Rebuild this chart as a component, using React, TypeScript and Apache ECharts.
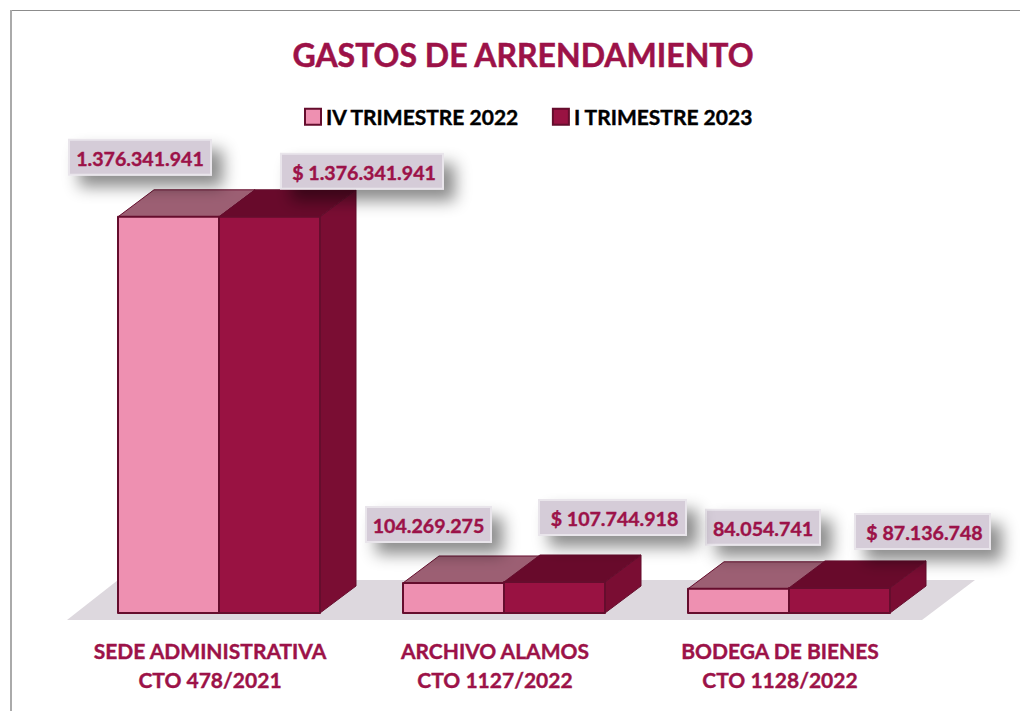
import React, { useEffect, useRef } from "react";
import * as echarts from "echarts";

const title = "GASTOS DE ARRENDAMIENTO";
const categories = ["SEDE ADMINISTRATIVA\nCTO 478/2021", "ARCHIVO ALAMOS\nCTO 1127/2022", "BODEGA DE BIENES\nCTO 1128/2022"];
const seriesNames = ["IV TRIMESTRE 2022", "I TRIMESTRE 2023"];
const trimestre4 = [1376341941, 104269275, 84054741];
const trimestre1 = [1376341941, 107744918, 87136748];

// hand-placed data-label boxes relative to each bar's front top-left corner: [dx, dy, w, h]
const labelOffsets4 = [[-49, -77, 142, 35], [-37, -76, 125, 35], [18, -79, 114, 35]];
const labelOffsets1 = [[62, -63, 162, 35], [35, -82, 147, 35], [66, -74, 135, 35]];

const BAR_W = 101, DX = 36, DY = -27;
const INK = "#9C1248", EDGE = "#650D2D";
const fmt = (v: number) => String(v).replace(/\B(?=(\d{3})+$)/g, ".");

const skin = [
  { front: "#EE90B1", top: "#9C5F73", side: "#7E1E45", prefix: "", offs: labelOffsets4, shift: -BAR_W, textShift: 0 },
  { front: "#991242", top: "#680A2B", side: "#7A0D33", prefix: "$ ", offs: labelOffsets1, shift: 0, textShift: 2 },
];

function box3d(k: number) {
  const s = skin[k];
  return (params: any, api: any) => {
    const i = api.value(0), v = api.value(1);
    const [cx, yt] = api.coord([i, v]);
    const [, yb] = api.coord([i, 0]);
    const x = cx + s.shift, w = BAR_W;
    const stroke = { stroke: EDGE, lineWidth: 2, lineJoin: "round" };
    const thin = { stroke: EDGE, lineWidth: 1, lineJoin: "round" };
    const [dx, dy, lw, lh] = s.offs[params.dataIndex];
    return {
      type: "group",
      children: [
        { type: "polygon", shape: { points: [[x + w, yt], [x + w + DX, yt + DY], [x + w + DX, yb + DY], [x + w, yb]] }, style: { fill: s.side, ...thin } },
        { type: "polygon", shape: { points: [[x, yt], [x + DX, yt + DY], [x + w + DX, yt + DY], [x + w, yt]] }, style: { fill: s.top, ...thin } },
        { type: "rect", shape: { x, y: yt, width: w, height: yb - yt }, style: { fill: s.front, ...stroke } },
        {
          type: "rect", shape: { x: x + dx, y: yt + dy, width: lw, height: lh },
          style: { fill: "#D5CCD8", stroke: "#E9E5EB", lineWidth: 2, shadowColor: "rgba(0,0,0,0.45)", shadowBlur: 16, shadowOffsetX: 11, shadowOffsetY: 11 },
        },
        {
          type: "text", x: x + dx + lw / 2 + s.textShift, y: yt + dy + lh / 2 + 1,
          style: { text: s.prefix + fmt(v), fill: INK, font: "bold 19.6px Lato", align: "center", verticalAlign: "middle", stroke: INK, lineWidth: 0.4 },
        },
      ],
    };
  };
}

export default function App() {
  const ref = useRef<HTMLDivElement>(null);
  useEffect(() => {
    const chart = echarts.init(ref.current!, undefined, { renderer: "svg" });
    const make = (k: number, vals: number[]) => ({
      type: "custom",
      name: seriesNames[k],
      coordinateSystem: "cartesian2d",
      renderItem: box3d(k),
      encode: { x: 0, y: 1 },
      z: 3 + k,
      data: vals.map((v, i) => [i, v]),
    });
    chart.setOption({
      animation: false,
      backgroundColor: "#fff",
      title: { text: title, left: 518, textAlign: "center", top: 33, textStyle: { color: INK, fontFamily: "Lato", fontWeight: "bold", fontSize: 32, textBorderColor: INK, textBorderWidth: 0.5 } },
      legend: {
        left: 299, top: 101, itemWidth: 16, itemHeight: 16, itemGap: 32, selectedMode: false,
        textStyle: { color: "#000", fontFamily: "Lato", fontWeight: "bold", fontSize: 21, textBorderColor: "#000", textBorderWidth: 0.4 },
        data: [
          { name: seriesNames[0], icon: "rect", itemStyle: { color: skin[0].front, borderColor: EDGE, borderWidth: 2 } },
          { name: seriesNames[1], icon: "rect", itemStyle: { color: skin[1].front, borderColor: EDGE, borderWidth: 2 } },
        ],
      },
      grid: { left: 76.5, right: 88.5, top: 210, bottom: 98 },
      xAxis: {
        type: "category", data: categories,
        axisLine: { show: false }, axisTick: { show: false },
        axisLabel: { color: INK, fontFamily: "Lato", fontWeight: "bold", fontSize: 21, lineHeight: 29, margin: 23, interval: 0, padding: [0, 18, 0, 0], textBorderColor: INK, textBorderWidth: 0.4 },
      },
      yAxis: { type: "value", min: 0, max: 1400000000, show: false },
      graphic: [
        { type: "polygon", z: 0, shape: { points: [[67, 620], [118, 580], [975, 580], [922, 620]] }, style: { fill: "#DDD8DE" } },
        { type: "line", z: 0, shape: { x1: 10, y1: 10.5, x2: 1020, y2: 10.5 }, style: { stroke: "#8C8C8C", lineWidth: 1 } },
        { type: "line", z: 0, shape: { x1: 11, y1: 10, x2: 11, y2: 711 }, style: { stroke: "#AAAAAA", lineWidth: 2 } },
      ],
      series: [make(0, trimestre4), make(1, trimestre1)],
    });
    return () => chart.dispose();
  }, []);
  return <div ref={ref} style={{ position: "fixed", left: 0, top: 0, width: 1020, height: 711 }} />;
}
